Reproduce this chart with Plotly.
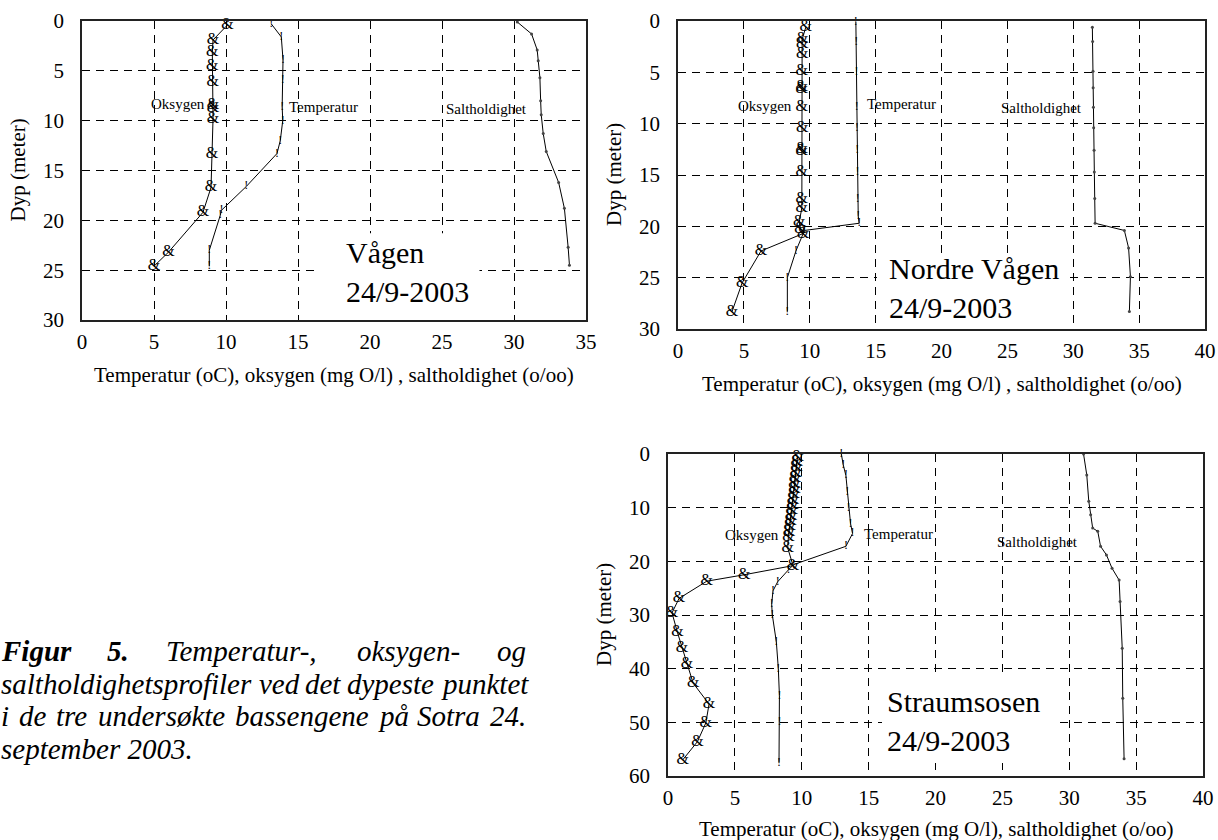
import plotly.graph_objects as go

W, H = 1218, 840
SERIF = "Liberation Serif, Times New Roman, Times, serif"

# ---------------- DATA ----------------
# Vågen 24/9-2003
v_oxy_depth = [0.4, 1.9, 3.1, 4.5, 6.1, 8.4, 8.7, 9.8, 13.3, 16.7, 19.2, 23.2, 24.6]
v_oxy = [10.1, 9.1, 9.05, 9.05, 9.07, 9.1, 9.1, 9.1, 9.03, 8.96, 8.4, 6.0, 5.0]
v_temp_depth = [0.3, 1.6, 3.9, 5.9, 8.6, 10.0, 12.0, 13.3, 16.6, 19.0, 19.5, 23.0, 24.6]
v_temp = [13.15, 13.84, 13.96, 13.94, 13.9, 13.94, 13.77, 13.54, 11.41, 9.68, 9.6, 8.84, 8.84]
v_sal_depth = [0.1, 1.3, 2.9, 4.0, 5.7, 8.0, 9.4, 11.3, 13.1, 16.2, 18.8, 22.7, 24.5]
v_sal = [30.23, 31.22, 31.61, 31.68, 31.8, 31.85, 31.89, 32.03, 32.24, 33.1, 33.5, 33.76, 33.85]

# Nordre Vågen 24/9-2003
n_oxy_depth = [0.6, 1.8, 2.2, 3.2, 4.9, 6.4, 6.6, 8.4, 10.4, 12.5, 12.7, 14.7, 17.3, 18.2,
               19.6, 20.3, 20.7, 22.4, 25.5, 28.3]
n_oxy = [9.7, 9.42, 9.42, 9.42, 9.4, 9.4, 9.4, 9.4, 9.42, 9.4, 9.4, 9.4, 9.4, 9.4,
         9.2, 9.3, 9.5, 6.3, 4.87, 4.1]
n_temp_depth = [0.1, 2.0, 5.0, 8.4, 10.4, 12.6, 14.7, 17.3, 19.0, 19.7, 20.4, 22.4, 25.0, 28.3]
n_temp = [13.5, 13.52, 13.55, 13.57, 13.58, 13.6, 13.62, 13.65, 13.68, 13.75, 9.6, 8.95, 8.3, 8.3]
n_sal_depth = [0.6, 2.0, 4.9, 6.5, 8.4, 10.4, 12.6, 14.7, 17.3, 19.7, 20.4, 22.1, 24.9, 28.3]
n_sal = [31.45, 31.47, 31.5, 31.51, 31.53, 31.55, 31.58, 31.6, 31.63, 31.66, 33.88, 34.2, 34.34, 34.26]

# Straumsosen 24/9-2003
s_oxy_depth = [0.5, 1.5, 2.5, 3.5, 4.5, 5.5, 6.5, 7.5, 8.5, 9.5, 10.5, 11.5, 12.5, 13.5, 14.5,
               15.5, 17.5, 20.8, 22.5, 23.7, 26.9, 29.6, 33.2, 36.1, 39.2, 42.7, 46.6, 50.1,
               53.6, 57.0]
s_oxy = [9.7, 9.62, 9.6, 9.55, 9.5, 9.45, 9.45, 9.4, 9.35, 9.3, 9.25, 9.2, 9.15, 9.1, 9.05,
         9.0, 8.95, 9.35, 5.7, 2.9, 0.83, 0.3, 0.7, 1.05, 1.42, 1.88, 3.07, 2.83, 2.2, 1.1]
s_temp_depth = [0, 2, 4, 7, 10, 13, 14.8, 17.2, 20.6, 21.6, 23.8, 25.5, 28, 30, 35, 40, 45, 50, 57.5]
s_temp = [12.96, 13.1, 13.3, 13.4, 13.5, 13.65, 13.8, 13.3, 9.4, 9.0, 8.2, 7.85, 7.75, 7.8,
          8.1, 8.25, 8.33, 8.33, 8.3]
s_sal_depth = [0, 3.9, 8.8, 11.3, 13.8, 14.4, 17.2, 18.8, 21.3, 23.5, 27.5, 36.2, 45.5, 56.8]
s_sal = [31.07, 31.31, 31.46, 31.6, 31.75, 32.13, 32.34, 32.78, 33.2, 33.73, 33.8, 33.96, 34.0, 34.1]

station_names = ["Vågen", "Nordre Vågen", "Straumsosen"]
station_date = "24/9-2003"
series_labels = ["Oksygen", "Temperatur", "Saltholdighet"]
xtitle_a = "Temperatur (oC), oksygen (mg O/l) , saltholdighet (o/oo)"
xtitle_b = "Temperatur (oC), oksygen (mg O/l), saltholdighet (o/oo)"
ytitle = "Dyp (meter)"

caption_lines = [
    [("Figur", True), ("5.", True), ("Temperatur-,", False), ("oksygen-", False), ("og", False)],
    [("saltholdighetsprofiler", False), ("ved", False), ("det", False), ("dypeste", False),
     ("punktet", False)],
    [("i", False), ("de", False), ("tre", False), ("undersøkte", False), ("bassengene", False),
     ("på", False), ("Sotra", False), ("24.", False)],
    [("september 2003.", False)],
]

# ---------------- LAYOUT (pixels) ----------------
panels = [
    dict(x0=82, x1=586, y0=21, y1=320, xr=[0, 35], yr=[30, 0], dy=5,
         xt=xtitle_a, xt_y=375, yt_x=18,
         lab=[(6.7, 8.3), (16.8, 8.6), (28.1, 8.8)], big=(18.2, 25.15),
         box=(16.5, 27.6, 21.3, 30)),
    dict(x0=678, x1=1205, y0=21, y1=329, xr=[0, 40], yr=[30, 0], dy=5,
         xt=xtitle_a, xt_y=384, yt_x=614,
         lab=[(6.6, 8.3), (17.0, 8.1), (27.6, 8.5)], big=(15.9, 26.05),
         box=(15.1, 29.5, 22.6, 30)),
    dict(x0=668, x1=1203, y0=454, y1=776, xr=[0, 40], yr=[60, 0], dy=10,
         xt=xtitle_b, xt_y=829, yt_x=604,
         lab=[(6.3, 15.1), (17.2, 14.9), (27.65, 16.4)], big=(16.2, 49.75),
         box=(16.0, 29.2, 41.6, 57.6)),
]
data = [
    (v_oxy_depth, v_oxy, v_temp_depth, v_temp, v_sal_depth, v_sal),
    (n_oxy_depth, n_oxy, n_temp_depth, n_temp, n_sal_depth, n_sal),
    (s_oxy_depth, s_oxy, s_temp_depth, s_temp, s_sal_depth, s_sal),
]

fig = go.Figure()
annotations = []
shapes = []
layout_axes = {}

axis_common = dict(showline=True, mirror=True, linecolor="#222", linewidth=1.5,
                   showgrid=True, gridcolor="black", gridwidth=1, griddash="8px,6px",
                   zeroline=False, ticks="", automargin=False, layer="above traces",
                   tickfont=dict(family=SERIF, size=21, color="black"))

for i, (p, d) in enumerate(zip(panels, data)):
    sfx = "" if i == 0 else str(i + 1)
    xa, ya = "x" + sfx, "y" + sfx
    od, ov, td, tv, sd, sv = d
    fig.add_trace(go.Scatter(x=ov, y=od, mode="lines+text", text=["&"] * len(ov),
                             textposition="middle center",
                             textfont=dict(family=SERIF, size=16, color="black"),
                             line=dict(color="black", width=1), xaxis=xa, yaxis=ya,
                             cliponaxis=False, hoverinfo="skip"))
    fig.add_trace(go.Scatter(x=tv, y=td, mode="lines+text", text=["!"] * len(tv),
                             textposition="middle center",
                             textfont=dict(family=SERIF, size=12, color="black"),
                             line=dict(color="black", width=1), xaxis=xa, yaxis=ya,
                             cliponaxis=False, hoverinfo="skip"))
    fig.add_trace(go.Scatter(x=sv, y=sd, mode="lines+markers",
                             marker=dict(size=3, color="#444"),
                             line=dict(color="black", width=1), xaxis=xa, yaxis=ya,
                             cliponaxis=False, hoverinfo="skip"))

    layout_axes["xaxis" + sfx] = dict(axis_common, domain=[p["x0"] / W, p["x1"] / W],
                                      range=p["xr"], dtick=5, anchor=ya,
                                      ticklabelstandoff=2)
    layout_axes["yaxis" + sfx] = dict(axis_common, domain=[1 - p["y1"] / H, 1 - p["y0"] / H],
                                      range=p["yr"], dtick=p["dy"], anchor=xa,
                                      ticklabelstandoff=12)

    # series labels
    for (lx, ly), txt in zip(p["lab"], series_labels):
        annotations.append(dict(x=lx, y=ly, xref=xa, yref=ya, text=txt, showarrow=False,
                                font=dict(family=SERIF, size=15, color="black"),
                                xanchor="center", yanchor="middle"))
    # station label on a white box that hides the grid
    bx0, bx1, by0, by1 = p["box"]
    shapes.append(dict(type="rect", xref=xa, yref=ya, x0=bx0, x1=bx1, y0=by0, y1=by1,
                       fillcolor="white", line=dict(width=0), layer="between"))
    bx, by = p["big"]
    annotations.append(dict(x=bx, y=by, xref=xa, yref=ya,
                            text=station_names[i] + "<br>" + station_date,
                            showarrow=False, align="left", xanchor="left", yanchor="middle",
                            font=dict(family=SERIF, size=30, color="black")))
    # axis titles
    annotations.append(dict(x=(p["x0"] + p["x1"]) / 2 / W, y=1 - p["xt_y"] / H,
                            xref="paper", yref="paper", text=p["xt"], showarrow=False,
                            xanchor="center", yanchor="middle",
                            font=dict(family=SERIF, size=21, color="black")))
    annotations.append(dict(x=p["yt_x"] / W, y=1 - (p["y0"] + p["y1"]) / 2 / H,
                            xref="paper", yref="paper", text=ytitle, showarrow=False,
                            textangle=-90, xanchor="center", yanchor="middle",
                            font=dict(family=SERIF, size=21, color="black")))

# caption: justified lines (Times italic advance widths, per 1000 em)
TI = {' ': 250, ',': 250, '-': 333, '.': 250, 'S': 500, 'T': 556, 'a': 500, 'b': 500,
      'c': 444, 'd': 500, 'e': 444, 'f': 278, 'g': 500, 'h': 500, 'i': 278, 'k': 444,
      'l': 278, 'm': 722, 'n': 500, 'o': 500, 'p': 500, 'r': 389, 's': 389, 't': 278,
      'u': 500, 'v': 444, 'y': 444, 'å': 500, 'ø': 500}
TBI = {'F': 667, 'i': 278, 'g': 500, 'u': 556, 'r': 389, '.': 250}
CAP_SIZE, CAP_W = 29, 525
cap_y = [651, 684, 716, 749]


def word_width(word, bold):
    tab = TBI if bold else TI
    return sum(tab.get(c, 500) for c in word) / 1000 * CAP_SIZE


for li, (ly, words) in enumerate(zip(cap_y, caption_lines)):
    widths = [word_width(w, b) for w, b in words]
    justify = li < len(caption_lines) - 1 and len(words) > 1
    gap = (CAP_W - sum(widths)) / (len(words) - 1) if justify else 0
    xpos = 0.0
    for (wt, bold), ww in zip(words, widths):
        txt = "<b><i>%s</i></b>" % wt if bold else "<i>%s</i>" % wt
        annotations.append(dict(x=xpos / W, y=1 - ly / H, xref="paper", yref="paper",
                                text=txt, showarrow=False, xanchor="left", yanchor="middle",
                                borderpad=0,
                                font=dict(family=SERIF, size=CAP_SIZE, color="black")))
        xpos += ww + gap

fig.update_layout(width=W, height=H,
                  margin=dict(l=0, r=0, t=0, b=0, pad=0, autoexpand=False),
                  paper_bgcolor="white", plot_bgcolor="white", showlegend=False,
                  annotations=annotations, shapes=shapes, **layout_axes)

fig.write_html("out.html", config={"displayModeBar": False},
               post_script="document.body.style.margin='0';"
                           "document.body.style.overflow='hidden';")
